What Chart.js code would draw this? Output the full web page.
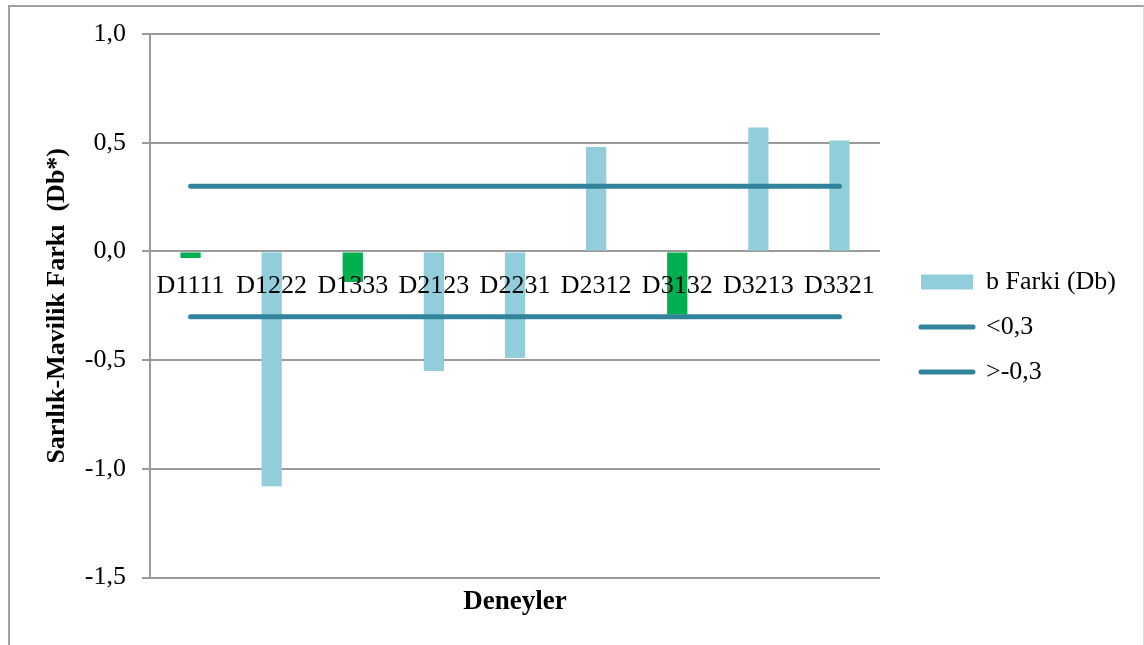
<!DOCTYPE html>
<html>
<head>
<meta charset="utf-8">
<script src="https://cdn.jsdelivr.net/npm/chart.js@4.4.1/dist/chart.umd.min.js"></script>
<style>
  html, body { margin: 0; padding: 0; background: #fff; }
  #wrap { position: relative; width: 1144px; height: 645px; overflow: hidden; }
  #frame { position: absolute; left: 8px; top: 5px; width: 1133px; height: 700px;
           border-top: 2px solid #a0a0a0; border-left: 2px solid #a0a0a0; border-right: 1px solid #dcdcdc; }
</style>
</head>
<body>
<div id="wrap">
  <div id="frame"></div>
  <canvas id="grafico"></canvas>
</div>
<script>
// datos
const deneyler = ['D1111', 'D1222', 'D1333', 'D2123', 'D2231', 'D2312', 'D3132', 'D3213', 'D3321'];
const bFarki = [-0.03, -1.08, -0.14, -0.55, -0.49, 0.48, -0.29, 0.57, 0.51];
const ustSinir = [0.3, 0.3, 0.3, 0.3, 0.3, 0.3, 0.3, 0.3, 0.3];
const altSinir = [-0.3, -0.3, -0.3, -0.3, -0.3, -0.3, -0.3, -0.3, -0.3];
const yTicks = [-1.5, -1.0, -0.5, 0.0, 0.5, 1.0];
const etiketler = ['b Farki (Db)', '<0,3', '>-0,3'];

const mavi = '#92cddc';
const yesil = '#00b050';
const teal = '#31849b';
const gri = '#9a9a9a';
const yaziTipi = "'Liberation Serif', 'Times New Roman', serif";

// yesil cubuklar: D1111, D1333, D3132
const cubukRenk = deneyler.map((d) => (d === 'D1111' || d === 'D1333' || d === 'D3132') ? yesil : mavi);

const virgul = (v) => v.toFixed(1).replace('.', ',');

new Chart(document.getElementById('grafico'), {
  type: 'bar',
  data: {
    labels: deneyler,
    datasets: [
      { label: etiketler[0], data: bFarki, backgroundColor: cubukRenk, order: 1,
        categoryPercentage: 1, barPercentage: 0.25 },
      { type: 'line', label: etiketler[1], data: ustSinir, borderColor: teal, borderWidth: 5,
        borderCapStyle: 'round', pointRadius: 0, fill: false, order: 0 },
      { type: 'line', label: etiketler[2], data: altSinir, borderColor: teal, borderWidth: 5,
        borderCapStyle: 'round', pointRadius: 0, fill: false, order: 0 }
    ]
  },
  options: {
    responsive: true,
    maintainAspectRatio: false,
    animation: false,
    layout: { padding: { left: 10, top: 34, right: 18, bottom: 25 } },
    plugins: {
      tooltip: { enabled: false },
      legend: {
        position: 'right',
        maxWidth: 320,
        labels: {
          color: '#000',
          font: { family: yaziTipi, size: 26 },
          usePointStyle: true,
          pointStyleWidth: 52,
          boxHeight: 15,
          padding: 19,
          generateLabels: () => [
            { text: etiketler[0], fillStyle: mavi, strokeStyle: mavi, lineWidth: 0, pointStyle: 'rect', datasetIndex: 0 },
            { text: etiketler[1], fillStyle: teal, strokeStyle: teal, lineWidth: 5, lineCap: 'round', pointStyle: 'line', datasetIndex: 1 },
            { text: etiketler[2], fillStyle: teal, strokeStyle: teal, lineWidth: 5, lineCap: 'round', pointStyle: 'line', datasetIndex: 2 }
          ]
        }
      },
      title: {
        display: true,
        position: 'bottom',
        fullSize: false,
        text: 'Deneyler',
        color: '#000',
        font: { family: yaziTipi, size: 27, weight: 'bold' },
        padding: { top: 8, bottom: 2 }
      }
    },
    scales: {
      x: {
        position: { y: 0 },
        grid: { display: false, drawTicks: false },
        border: { display: false },
        ticks: { z: 1, // etiketler cubuklarin ustunde
                 color: '#000', font: { family: yaziTipi, size: 26 }, padding: 19,
                 maxRotation: 0, autoSkip: false }
      },
      y: {
        min: -1.5,
        max: 1.0,
        afterBuildTicks: (s) => { s.ticks = yTicks.map((v) => ({ value: v })); },
        afterFit: (s) => { s.width = 140; },
        grid: { color: gri, lineWidth: 2, tickLength: 8 },
        border: { display: true, color: gri, width: 2 },
        ticks: { color: '#000', font: { family: yaziTipi, size: 26 }, padding: 16,
                 callback: (v) => virgul(v) },
        title: { display: true, text: 'Sarılık-Mavilik Farkı  (Db*)', color: '#000',
                 font: { family: yaziTipi, size: 26, weight: 'bold' }, padding: { top: 32, bottom: 0 } }
      },
      bosluk: {
        type: 'linear',
        position: 'right',
        display: true,
        grid: { display: false },
        border: { display: false },
        ticks: { display: false },
        afterFit: (s) => { s.width = 22; }
      }
    }
  }
});
</script>
</body>
</html>
